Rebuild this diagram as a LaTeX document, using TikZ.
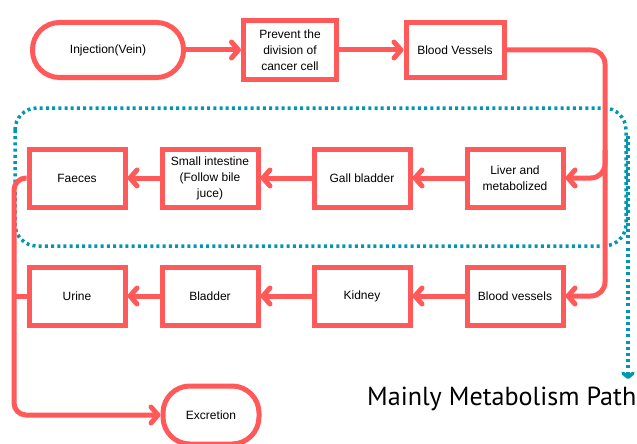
\documentclass[tikz,border=0pt]{standalone}
\usepackage{fontspec}
\setmainfont{Liberation Sans}
\newfontfamily\pathfont{PT Sans}
\usetikzlibrary{arrows.meta}
\definecolor{redc}{RGB}{255,89,89}
\definecolor{tealc}{RGB}{0,151,178}
\tikzset{
  box/.style={draw=redc, line width=5pt, minimum width=96pt, minimum height=58pt,
    align=center, inner sep=2pt, font=\fontsize{12}{16}\selectfont, text=black},
  pill/.style={box, rounded corners=27pt},
  link/.style={draw=redc, line width=5pt,
    -{Straight Barb[length=7pt,width=16pt,line cap=round,line join=round]}},
  plain/.style={draw=redc, line width=5pt},
  dotline/.style={draw=tealc, line width=3.5pt, dash pattern=on 3pt off 3.2pt}
}
\begin{document}
\begin{tikzpicture}[x=1pt,y=-1pt]
\useasboundingbox (0,0) rectangle (637,444);
% dotted region
\draw[dotline, rounded corners=22pt] (15,108) rectangle (626,246);
\coordinate (dstart) at (628,136);
\coordinate (dend) at (628,379);
\draw[dotline, -{Straight Barb[length=4pt,width=10pt,line cap=round,line join=round]}] (dstart) -- (dend);
% nodes
\node[pill, minimum width=151pt, minimum height=55pt] (inj) at (108,50) {Injection(Vein)};
\node[box, minimum width=93pt, minimum height=58pt] (prev) at (290,50) {Prevent the\\division of\\cancer cell};
\node[box, minimum width=98pt, minimum height=55pt] (bv1) at (455,50) {Blood Vessels};
\node[box] (liver) at (515,178) {Liver and\\metabolized};
\node[box] (gall) at (362,178) {Gall bladder};
\node[box] (small) at (210,178) {Small intestine\\(Follow bile\\juce)};
\node[box] (faeces) at (77,178) {Faeces};
\node[box] (bv2) at (515,296) {Blood vessels};
\node[box] (kidney) at (362,296) {Kidney};
\node[box] (bladder) at (210,296) {Bladder};
\node[box] (urine) at (77,296) {Urine};
\node[pill, minimum height=58pt] (exc) at (211,415) {Excretion};
% connectors
\draw[link] (inj) -- (prev);
\draw[link] (prev) -- (bv1);
\coordinate (rtop) at (605,50);
\coordinate (rmid) at (605,150);
\coordinate (rbot) at (605,296);
\draw[link, rounded corners=14pt] (bv1.east) -- (rtop) -- (rbot) -- (bv2.east);
\draw[link, rounded corners=14pt] (rmid) |- (liver.east);
\draw[link] (liver) -- (gall);
\draw[link] (gall) -- (small);
\draw[link] (small) -- (faeces);
\draw[link] (bv2) -- (kidney);
\draw[link] (kidney) -- (bladder);
\draw[link] (bladder) -- (urine);
\coordinate (ltop) at (14,178);
\coordinate (lmid) at (14,296);
\coordinate (lbot) at (14,415);
\draw[link, rounded corners=12pt] (faeces.west) -- (ltop) -- (lbot) -- (exc.west);
\draw[plain] (urine.west) -- (lmid);
% label
\node[anchor=base west, inner sep=0pt, text=black] (lbl) at (367,405)
  {\resizebox{269pt}{!}{\pathfont Mainly Metabolism Path}};
\end{tikzpicture}
\end{document}
